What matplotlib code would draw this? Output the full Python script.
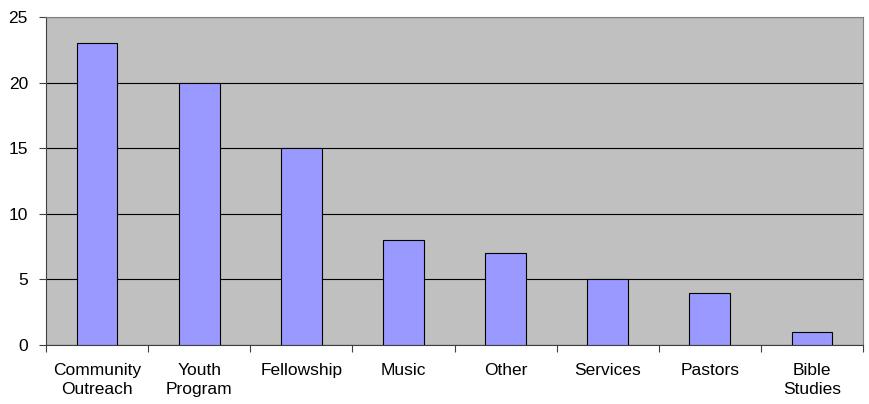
import matplotlib.pyplot as plt
import numpy as np

plt.rcParams['font.family'] = ['Liberation Sans', 'DejaVu Sans']

categories = ['Community\nOutreach', 'Youth\nProgram', 'Fellowship', 'Music',
              'Other', 'Services', 'Pastors', 'Bible\nStudies']
counts = [23, 20, 15, 8, 7, 5, 4, 1]

fig = plt.figure(figsize=(8.69, 4.04), dpi=100)
ax = fig.add_axes([46 / 869, 1 - 345 / 404, 817 / 869, 328 / 404])
ax.set_facecolor('#C0C0C0')

x = np.arange(len(categories))
ax.bar(x, counts, width=0.4, color='#9999FF', edgecolor='black', linewidth=0.8, zorder=3)

ax.set_xlim(-0.5, len(categories) - 0.5)
ax.set_ylim(0, 25)
ax.set_yticks(range(0, 26, 5))
ax.yaxis.grid(True, color='black', linewidth=0.8, zorder=1)

# category labels centred, tick marks between categories
ax.set_xticks(np.arange(-0.5, len(categories), 1.0))
ax.set_xticklabels([])
ax.set_xticks(x, minor=True)
ax.set_xticklabels(categories, minor=True, linespacing=1.35)
ax.tick_params(axis='x', which='minor', length=0, pad=13, labelsize=12.5)
ax.tick_params(axis='x', which='major', length=5, color='#404040', direction='out')
ax.tick_params(axis='y', length=5, color='#404040', labelsize=12.5, pad=8)

for side in ['top', 'right']:
    ax.spines[side].set_color('#808080')
ax.spines['left'].set_color('#404040')
ax.spines['bottom'].set_color('#404040')

fig.savefig('out.png', dpi=100)
